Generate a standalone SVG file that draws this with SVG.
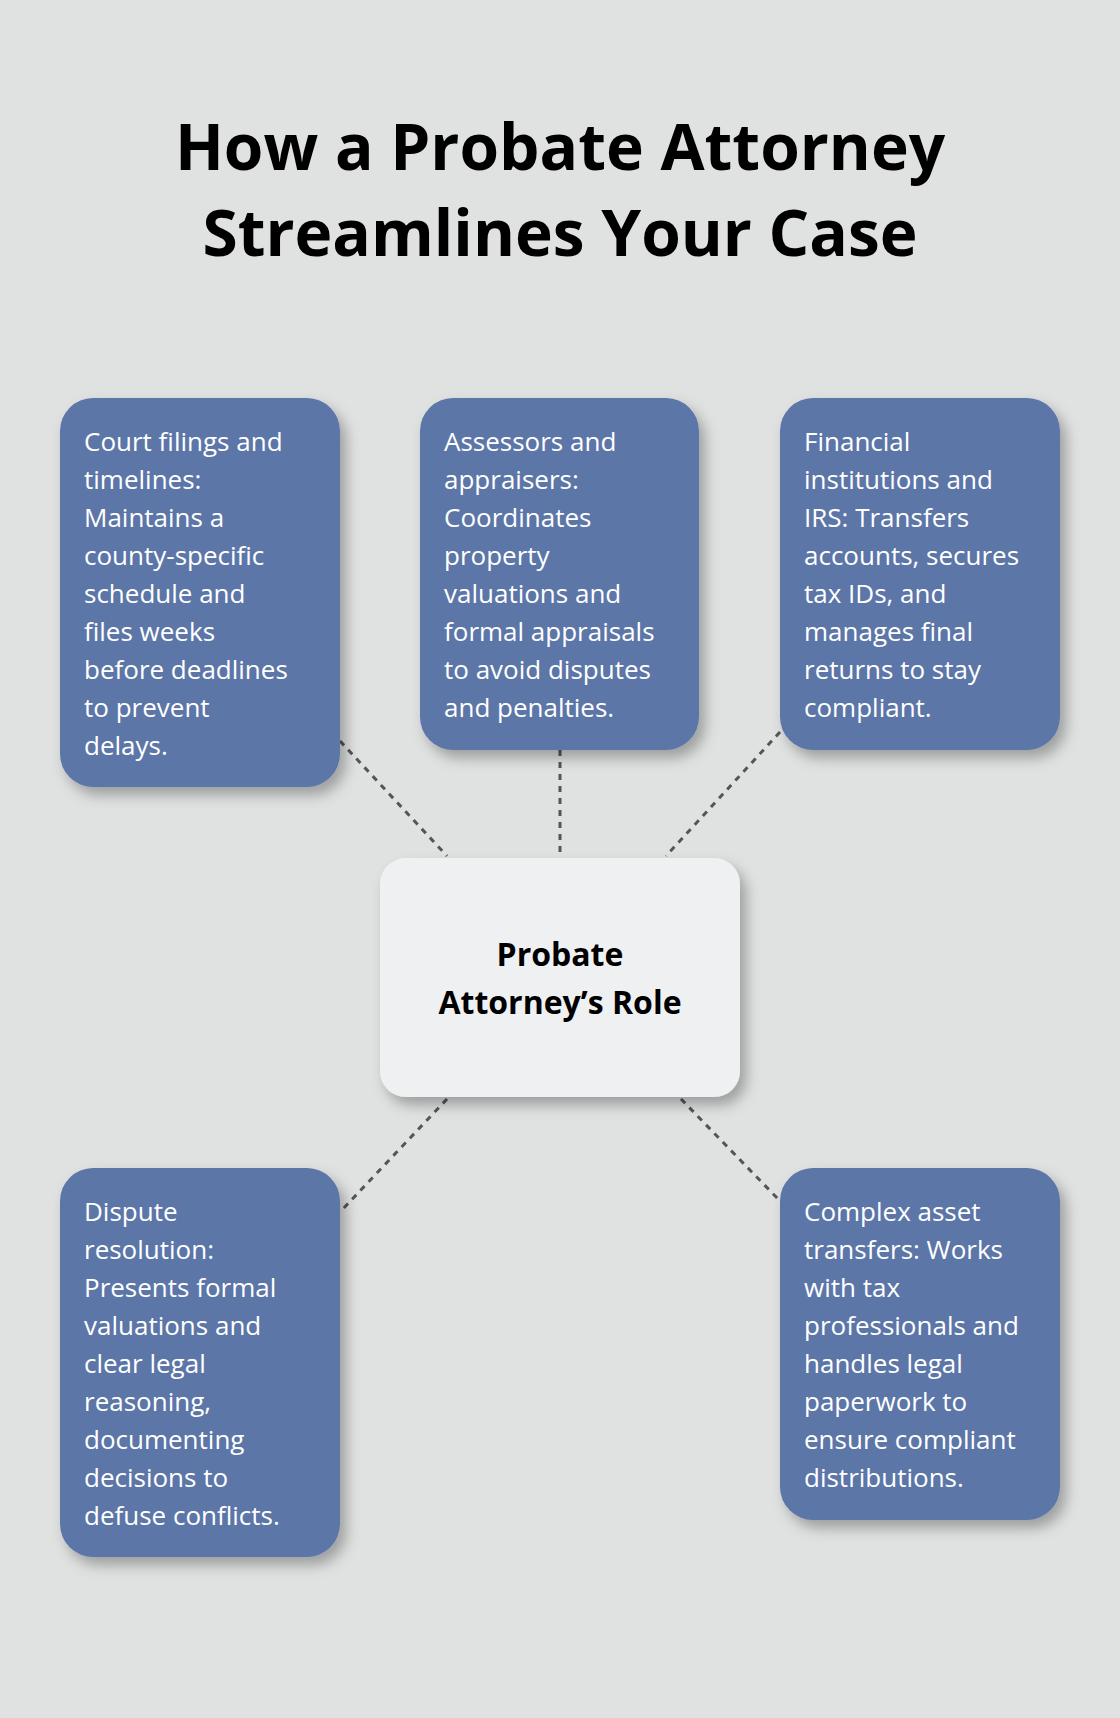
<svg xmlns="http://www.w3.org/2000/svg" width="1120" height="1718" viewBox="0 0 1120 1718">
<defs>
<filter id="sh" x="-20%" y="-20%" width="150%" height="150%"><feDropShadow dx="6" dy="8" stdDeviation="7" flood-color="#000" flood-opacity="0.3"/></filter>
</defs>
<style>
.box{fill:#5b76a8;filter:url(#sh)}
.t{font-family:"Open Sans","Noto Sans",sans-serif;font-size:26px;fill:#fff}
.c{stroke:#555;stroke-width:3;stroke-dasharray:6,6;fill:none}
</style>
<rect width="1120" height="1718" fill="#e0e2e1"/>
<text font-family="'Open Sans','Noto Sans',sans-serif" font-weight="bold" font-size="64" text-anchor="middle" fill="#000"><tspan x="560" y="170">How a Probate Attorney</tspan><tspan x="560" y="256">Streamlines Your Case</tspan></text>
<g id="connectors">
<line class="c" x1="340" y1="741" x2="447" y2="856"/>
<line class="c" x1="560" y1="750" x2="560" y2="856"/>
<line class="c" x1="780" y1="732" x2="666" y2="856"/>
<line class="c" x1="447" y1="1099" x2="340" y2="1212"/>
<line class="c" x1="681" y1="1099" x2="780" y2="1201"/>
</g>
<g id="center">
<rect x="380" y="858" width="360" height="239" rx="26" fill="#eff0f2" filter="url(#sh)"/>
<text font-family="'Open Sans','Noto Sans',sans-serif" font-weight="bold" font-size="32" text-anchor="middle" fill="#000"><tspan x="560" y="966">Probate</tspan><tspan x="560" y="1014">Attorney’s Role</tspan></text>
</g>
<g id="n1"><rect class="box" x="60" y="398" width="280" height="389" rx="33"/>
<text class="t"><tspan x="84" y="451">Court filings and</tspan><tspan x="84" y="489">timelines:</tspan><tspan x="84" y="527">Maintains a</tspan><tspan x="84" y="565">county-specific</tspan><tspan x="84" y="603">schedule and</tspan><tspan x="84" y="641">files weeks</tspan><tspan x="84" y="679">before deadlines</tspan><tspan x="84" y="717">to prevent</tspan><tspan x="84" y="755">delays.</tspan></text></g>
<g id="n2"><rect class="box" x="420" y="398" width="279" height="352" rx="33"/>
<text class="t"><tspan x="444" y="451">Assessors and</tspan><tspan x="444" y="489">appraisers:</tspan><tspan x="444" y="527">Coordinates</tspan><tspan x="444" y="565">property</tspan><tspan x="444" y="603">valuations and</tspan><tspan x="444" y="641">formal appraisals</tspan><tspan x="444" y="679">to avoid disputes</tspan><tspan x="444" y="717">and penalties.</tspan></text></g>
<g id="n3"><rect class="box" x="780" y="398" width="280" height="352" rx="33"/>
<text class="t"><tspan x="804" y="451">Financial</tspan><tspan x="804" y="489">institutions and</tspan><tspan x="804" y="527">IRS: Transfers</tspan><tspan x="804" y="565">accounts, secures</tspan><tspan x="804" y="603">tax IDs, and</tspan><tspan x="804" y="641">manages final</tspan><tspan x="804" y="679">returns to stay</tspan><tspan x="804" y="717">compliant.</tspan></text></g>
<g id="n4"><rect class="box" x="60" y="1168" width="280" height="389" rx="33"/>
<text class="t"><tspan x="84" y="1221">Dispute</tspan><tspan x="84" y="1259">resolution:</tspan><tspan x="84" y="1297">Presents formal</tspan><tspan x="84" y="1335">valuations and</tspan><tspan x="84" y="1373">clear legal</tspan><tspan x="84" y="1411">reasoning,</tspan><tspan x="84" y="1449">documenting</tspan><tspan x="84" y="1487">decisions to</tspan><tspan x="84" y="1525">defuse conflicts.</tspan></text></g>
<g id="n5"><rect class="box" x="780" y="1168" width="280" height="352" rx="33"/>
<text class="t"><tspan x="804" y="1221">Complex asset</tspan><tspan x="804" y="1259">transfers: Works</tspan><tspan x="804" y="1297">with tax</tspan><tspan x="804" y="1335">professionals and</tspan><tspan x="804" y="1373">handles legal</tspan><tspan x="804" y="1411">paperwork to</tspan><tspan x="804" y="1449">ensure compliant</tspan><tspan x="804" y="1487">distributions.</tspan></text></g>
</svg>
